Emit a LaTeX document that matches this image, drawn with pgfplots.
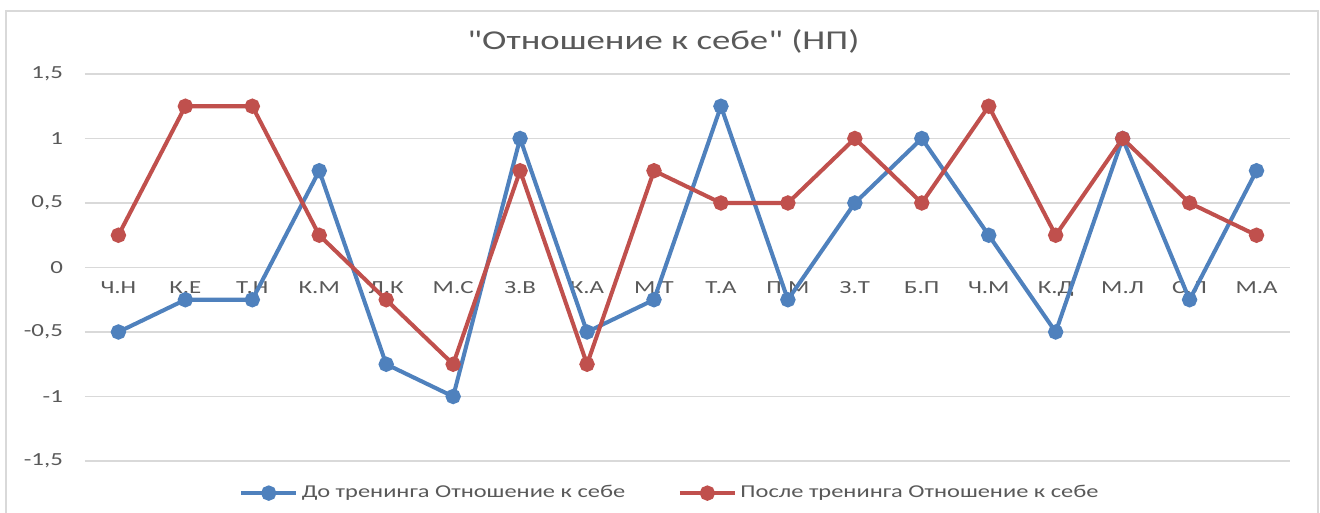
\documentclass[border=0pt]{standalone}
\usepackage{pgfplots}
\pgfplotsset{compat=1.18}
\usepackage{fontspec}
\setmainfont{Carlito}[FakeStretch=1.35, Ligatures=TeXOff]

\definecolor{before}{RGB}{79,129,189}
\definecolor{after}{RGB}{192,80,77}
\definecolor{txt}{RGB}{89,89,89}
\definecolor{grd}{RGB}{217,217,217}

\begin{document}
\begin{tikzpicture}
\begin{axis}[
    width=24.1cm, height=7.74cm, scale only axis,
    clip=false,
    xmin=-0.5, xmax=17.5,
    ymin=-1.5, ymax=1.5,
    axis x line=middle, axis y line=left,
    x axis line style={draw=none}, y axis line style={draw=none},
    hide obscured x ticks=false, hide obscured y ticks=false,
    major tick length=0pt,
    xtick={0,...,17},
    xticklabels={Ч.Н,К.Е,Т.Н,К.М,Л.К,М.С,З.В,К.А,М.Т,Т.А,П.М,З.Т,Б.П,Ч.М,К.Д,М.Л,С.Л,М.А},
    ytick={-1.5,-1,-0.5,0,0.5,1,1.5},
    /pgf/number format/use comma,
    /pgf/number format/assume math mode=true,
    ymajorgrids, grid style={grd, line width=0.8pt},
    tick label style={font=\fontsize{10.5}{12}\selectfont, text=txt},
    xticklabel style={anchor=north, yshift=-4.5pt},
    yticklabel style={xshift=-9pt},
    title={"Отношение к себе" (НП)},
    title style={at={(0.48,1.057)}, anchor=center, font=\fontsize{15.5}{18}\selectfont, text=txt},
    legend style={at={(0.486,-0.083)}, anchor=center, draw=none, fill=none,
        legend columns=2, font=\fontsize{10.3}{12}\selectfont, text=txt,
        /tikz/every even column/.append style={column sep=28pt}},
    legend image code/.code={\draw[mark repeat=2,mark phase=2,#1] plot coordinates {(0cm,0cm) (0.55cm,0cm) (1.1cm,0cm)};},
    every axis plot/.append style={line width=2.3pt, mark=*, mark size=3.2pt},
]
\addplot[before, mark options={fill=before, draw=before}] coordinates {
    (0,-0.5) (1,-0.25) (2,-0.25) (3,0.75) (4,-0.75) (5,-1) (6,1) (7,-0.5) (8,-0.25)
    (9,1.25) (10,-0.25) (11,0.5) (12,1) (13,0.25) (14,-0.5) (15,1) (16,-0.25) (17,0.75)
};
\addplot[after, mark options={fill=after, draw=after}] coordinates {
    (0,0.25) (1,1.25) (2,1.25) (3,0.25) (4,-0.25) (5,-0.75) (6,0.75) (7,-0.75) (8,0.75)
    (9,0.5) (10,0.5) (11,1) (12,0.5) (13,1.25) (14,0.25) (15,1) (16,0.5) (17,0.25)
};
\legend{До тренинга Отношение к себе, После тренинга Отношение к себе}
\draw[grd, line width=0.9pt] (rel axis cs:-0.0656,-0.2) -- (rel axis cs:-0.0656,1.1628)
    -- (rel axis cs:1.0232,1.1628) -- (rel axis cs:1.0232,-0.2);
\coordinate (bl) at (rel axis cs:-0.0705,-0.1318);
\coordinate (tr) at (rel axis cs:1.0249,1.1912);
\end{axis}
\pgfresetboundingbox
\path[use as bounding box] (bl) rectangle (tr);
\end{tikzpicture}
\end{document}
